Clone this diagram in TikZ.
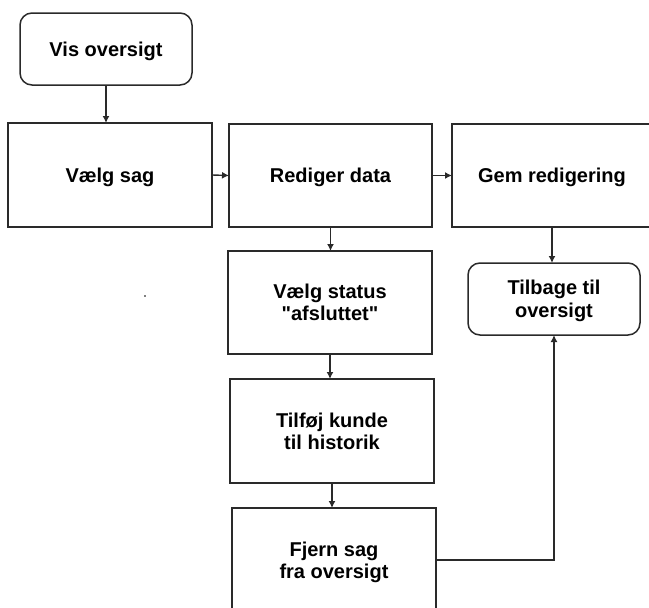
\documentclass[tikz,border=0pt]{standalone}
\usepackage{fontspec}
\setmainfont{Liberation Sans}[Ligatures=TeXOff]
\usetikzlibrary{arrows.meta,positioning}

\definecolor{ink}{HTML}{2A2A2A}

\tikzset{
  stepbox/.style={draw=ink, line width=1.5pt, fill=white, inner sep=0pt, outer sep=0pt,
    anchor=north west, align=center, text depth=0pt,
    font=\bfseries\fontsize{20}{22.5}\selectfont},
  endbox/.style={stepbox, rounded corners=12pt},
  flow/.style={draw=ink, line width=1.4pt, -{Latex[length=7pt,width=7pt]}}
}

\begin{document}
\begin{tikzpicture}[x=1pt, y=-1pt]
  \useasboundingbox (0,0) rectangle (649,608);
  \clip (0,0) rectangle (649,608);
  \fill[white] (0,0) rectangle (649,608);

  % start and end states
  \node[endbox, minimum width=172pt, minimum height=72pt] (vis) at (20,13) {Vis oversigt};
  \node[endbox, minimum width=172pt, minimum height=72pt] (tilbage) at (468,263) {Tilbage til\\oversigt};

  % top row of steps
  \node[stepbox, minimum width=204pt, minimum height=104pt] (vaelg) at (8,123) {V\ae lg sag};
  \node[stepbox, minimum width=203pt, minimum height=103pt] (rediger) at (229,124) {Rediger data};
  \node[stepbox, minimum width=200pt, minimum height=103pt] (gem) at (452,124) {Gem redigering};

  % closing column
  \node[stepbox, minimum width=204pt, minimum height=103pt] (status) at (228,251) {V\ae lg status\\"afsluttet"};
  \node[stepbox, minimum width=204pt, minimum height=104pt] (tilfoej) at (230,379) {Tilf\o j kunde\\til historik};
  \node[stepbox, minimum width=204pt, minimum height=104pt] (fjern) at (232,508) {Fjern sag\\fra oversigt};

  % stray mark
  \fill[gray] (144,295) rectangle (146,297);

  % connectors
  \draw[flow] (vis.south) -- (vis.south |- vaelg.north);
  \draw[flow] (vaelg.east) -- (rediger.west);
  \draw[flow] (rediger.east) -- (gem.west);
  \draw[flow] (gem.south) -- (gem.south |- tilbage.north);
  \draw[flow] (rediger.south) -- (rediger.south |- status.north);
  \draw[flow] (status.south) -- (status.south |- tilfoej.north);
  \draw[flow] (tilfoej.south) -- (tilfoej.south |- fjern.north);
  \draw[flow] (fjern.east) -| (tilbage.south);
\end{tikzpicture}
\end{document}
